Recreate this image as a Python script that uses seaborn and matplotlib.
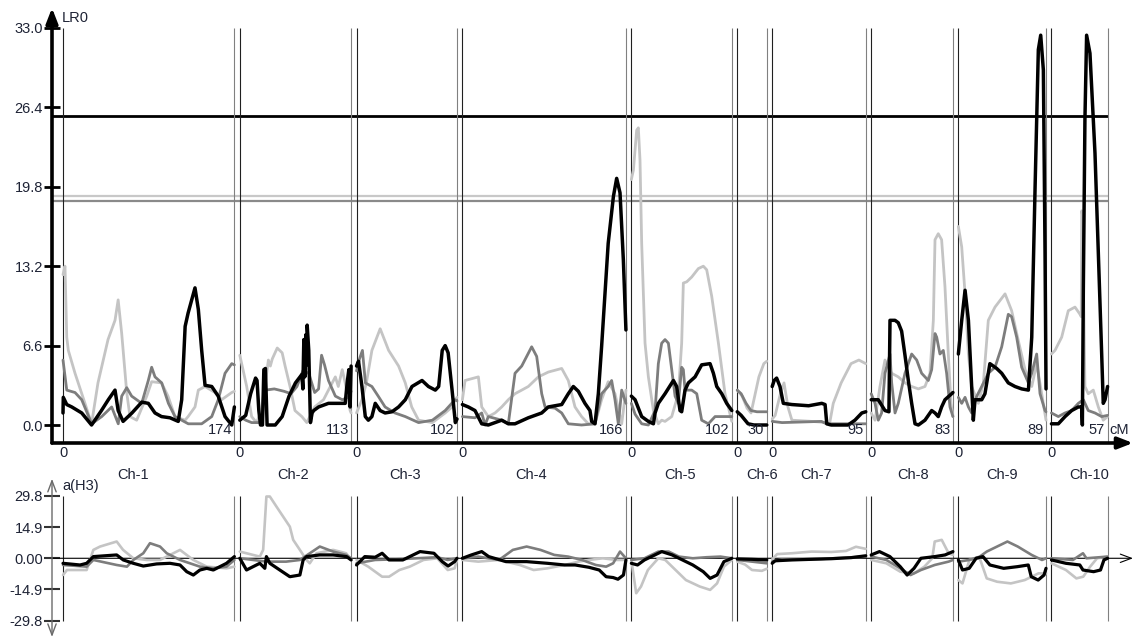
import numpy as np
import pandas as pd
import matplotlib
matplotlib.use("Agg")
import matplotlib.pyplot as plt
import seaborn as sns

# ---------------------------------------------------------------- data
chrom_names = ["Ch-1", "Ch-2", "Ch-3", "Ch-4", "Ch-5",
               "Ch-6", "Ch-7", "Ch-8", "Ch-9", "Ch-10"]
chrom_len = [174, 113, 102, 166, 102, 30, 95, 83, 89, 57]

# significance thresholds (LR) for the three traits
thr_black = 25.7
thr_light = 19.0
thr_dark = 18.6

lr_ticks = [0.0, 6.6, 13.2, 19.8, 26.4, 33.0]
eff_ticks = [-29.8, -14.9, 0.0, 14.9, 29.8]
eff_tick_labels = ["-29.8", "-14.9", "0.00", "14.9", "29.8"]

# LR profiles: one list of (cM, LR) per chromosome
lr_black = [
    [(0, 1.0), (0.3, 2.3), (3.8, 1.7), (8.9, 1.5), (19, 1.0), (29, 0.0), (39, 1.2), (46, 2.1), (52.8, 2.9),
     (56, 1.2), (61, 0.3), (70, 1.0), (80, 1.9), (86.6, 1.8), (93.4, 1.0), (100, 0.7), (108.6, 0.6), (117, 0.3),
     (120.5, 2.1), (124, 8.2), (127, 9.3), (134, 11.4), (137.4, 9.6), (140.8, 6.2), (144.2, 3.3), (151, 3.2),
     (157.6, 2.4), (164.5, 0.7), (171.3, 0.0), (174, 1.5)],
    [(0, 0.4), (6, 0.8), (11, 2.6), (16, 3.9), (17.5, 3.7), (19.3, 1.2), (21, 0.0), (23, 0.0), (24.4, 4.6),
     (26, 4.7), (27.7, 0.0), (36, 0.0), (43, 0.7), (50, 2.4), (56.5, 3.5), (63, 4.2), (64, 3.0), (65, 7.1),
     (66, 4.0), (67, 7.5), (68, 5.0), (68.4, 8.3), (70, 6.2), (71.7, 0.2), (73.4, 1.0), (75, 1.2), (80, 1.5),
     (90, 1.8), (100, 1.8), (107, 1.8), (109, 3.5), (110.7, 4.6), (112, 1.5), (113, 4.9)],
    [(0, 4.9), (2, 5.3), (5.5, 3.2), (8.9, 0.7), (12, 0.4), (15.6, 0.7), (19, 1.8), (24, 1.2), (29, 1.0),
     (36, 1.1), (42.7, 1.5), (49.5, 2.1), (56.3, 3.2), (66.5, 3.7), (73, 3.2), (80, 2.9), (83.4, 3.2), (87, 6.2),
     (90, 6.6), (93, 6.0), (97, 2.9), (100.3, 0.2), (102, 0.5)],
    [(0, 1.7), (6, 1.5), (12.8, 1.2), (19.6, 0.1), (26.3, 0.0), (39.9, 0.4), (46.6, 0.1), (53.4, 0.1),
     (66.9, 0.6), (80.5, 1.0), (87.2, 1.5), (100.8, 1.7), (107.5, 2.6), (112.6, 3.2), (117.7, 2.8), (124.4, 1.8),
     (129.5, 1.2), (131.2, 0.3), (134.6, 0.1), (138, 2.6), (141.3, 6.5), (148, 15.1), (153.3, 19.0),
     (156.6, 20.5), (160, 19.3), (163.4, 13.7), (166, 7.9)],
    [(0, 2.4), (3.8, 2.1), (10.5, 0.7), (17.3, 0.3), (22.4, 0.1), (24.1, 1.0), (27.4, 1.8), (34.2, 2.6),
     (42.7, 3.7), (46, 3.2), (49.4, 1.2), (51.1, 1.1), (54.5, 2.9), (57.9, 3.5), (64.7, 4.0), (71.4, 5.0),
     (79.9, 5.1), (83.3, 4.3), (86.7, 3.2), (91.8, 2.6), (96.8, 1.8), (102, 1.2)],
    [(0, 1.1), (4, 0.8), (11, 0.1), (17, 0.0), (30, 0.0)],
    [(0, 3.2), (2, 3.7), (4.5, 3.9), (7.9, 3.2), (11.3, 1.8), (20, 1.7), (37, 1.6), (50.3, 1.8), (53.7, 1.7),
     (55.4, 0.1), (60, 0.0), (77, 0.0), (84, 0.4), (91, 1.0), (95, 1.1)],
    [(0, 2.1), (3.9, 2.1), (7.2, 2.1), (14, 1.2), (18, 1.1), (19.1, 8.7), (24.2, 8.7), (27.5, 8.5), (30.9, 7.8),
     (34.3, 5.8), (37.7, 3.7), (41.1, 1.8), (44.5, 0.1), (47.9, 0.0), (54.6, 0.4), (61.4, 1.2), (64.8, 1.0),
     (68.1, 0.7), (71.5, 1.5), (74.9, 2.1), (81.7, 2.6), (83, 2.7)],
    [(0, 5.9), (3.4, 8.7), (6.8, 11.2), (10.2, 8.7), (13.5, 3.2), (15.2, 0.4), (16.9, 2.1), (20.3, 2.1),
     (23.7, 2.1), (27, 2.6), (32, 5.1), (38.9, 4.7), (44, 4.3), (50.7, 3.5), (57.5, 3.2), (64.3, 3.0),
     (71.1, 2.9), (74.5, 7.3), (77.9, 19.8), (81.2, 31.2), (83.6, 32.4), (86.3, 29.5), (88, 14.3), (89, 3.0)],
    [(0, 0.1), (7, 0.1), (13.8, 0.7), (20.5, 1.2), (27.3, 1.5), (30.7, 1.5), (31.4, 0.0), (32.4, 11.5),
     (34, 25.4), (35.7, 32.4), (39.1, 30.9), (44.2, 22.6), (47.6, 14.3), (51, 5.9), (52.6, 1.8), (54.4, 2.1),
     (57, 3.2)],
]

lr_dark = [
    [(0, 5.4), (3.8, 2.9), (12.2, 2.7), (19, 2.1), (29.1, 0.1), (39.3, 0.7), (49.4, 1.5), (56.1, 0.1),
     (59.6, 2.4), (64.7, 3.1), (69.7, 2.4), (79.9, 1.8), (86.6, 3.7), (90, 4.8), (93.4, 4.0), (100.2, 3.5),
     (107, 1.8), (113.7, 0.7), (127.2, 0.1), (140.8, 0.1), (151, 0.7), (157.6, 2.1), (164.5, 4.3),
     (171.3, 5.1), (174, 5.0)],
    [(0, 0.7), (6, 0.4), (12, 0.2), (19, 0.2), (23, 0.3), (24, 2.6), (26, 2.9), (35, 3.0), (45, 2.8), (52, 2.6),
     (58, 3.2), (64, 4.5), (70, 4.3), (76, 2.7), (80, 3.0), (83, 5.8), (86, 5.0), (90, 3.7), (97, 2.4),
     (104, 2.1), (110, 2.3), (113, 2.8)],
    [(0, 4.5), (3, 5.5), (6, 6.2), (9, 3.5), (15.6, 3.2), (22, 2.4), (29, 1.5), (39, 1.0), (49.5, 0.7),
     (63, 0.2), (77, 0.4), (90, 1.2), (100, 2.1), (102, 2.0)],
    [(0, 0.7), (12.8, 0.6), (19.6, 1.0), (23, 0.0), (26.3, 0.7), (39.9, 0.4), (46.6, 0.1), (53.4, 4.3),
     (60.2, 4.9), (70.3, 6.5), (75.4, 5.7), (80.5, 2.6), (83.9, 1.5), (94, 1.4), (100.8, 1.0), (107.5, 0.1),
     (121, 0.0), (134.6, 0.1), (141.3, 2.6), (148, 3.2), (151.5, 3.7), (154.9, 2.1), (158.3, 0.1),
     (161.7, 2.9), (166, 1.8)],
    [(0, 1.8), (3.8, 0.9), (10.5, 0.1), (17.3, 0.0), (24.1, 1.2), (27.4, 5.1), (30.8, 6.8), (34.2, 7.1),
     (37.6, 6.8), (41, 4.6), (44.4, 2.4), (47.7, 1.8), (51.1, 4.8), (52.8, 4.6), (54.5, 2.9), (61.3, 2.9),
     (66.4, 2.6), (71.4, 0.4), (78.2, 0.1), (85, 0.7), (95, 0.7), (102, 0.7)],
    [(0, 2.9), (4, 2.6), (9, 1.8), (14, 1.2), (20, 1.1), (30, 1.1)],
    [(0, 0.3), (10, 0.2), (50, 0.3), (55, 0.1), (95, 0.1)],
    [(0, 2.6), (3.9, 1.8), (7.2, 0.4), (10.6, 1.0), (14, 4.3), (19.1, 5.9), (20.8, 3.5), (24.2, 1.0),
     (27.5, 1.8), (34.3, 4.3), (41.1, 5.9), (46.2, 5.4), (51.2, 4.3), (58, 3.7), (61.4, 4.6), (64.8, 7.6),
     (66.5, 7.3), (69.8, 5.9), (73.2, 6.2), (76.6, 4.3), (80, 1.5), (83, 0.7)],
    [(0, 2.3), (3.4, 1.8), (6.8, 2.3), (10.2, 1.5), (13.5, 1.0), (16.9, 2.1), (23.7, 3.2), (30.4, 4.3),
     (37.2, 4.8), (44, 6.5), (50.7, 9.2), (54.1, 9.0), (59.2, 7.3), (64.3, 4.8), (71.1, 3.5), (74.5, 4.3),
     (79.5, 5.9), (82.9, 2.6), (88, 1.2), (89, 1.1)],
    [(0, 1.0), (7, 0.7), (13.8, 1.0), (20.5, 1.2), (27.3, 1.8), (32.4, 2.1), (37.4, 1.2), (44.2, 1.0),
     (51, 0.7), (57, 0.8)],
]

lr_light = [
    [(0, 12.5), (2, 13.2), (3.8, 7.3), (5.4, 6.2), (12.2, 4.3), (22.3, 1.8), (29, 0.1), (35.5, 3.5),
     (45.7, 7.1), (52.8, 8.7), (56, 10.4), (59.6, 7.6), (64.7, 2.7), (68, 0.7), (74.8, 0.4), (85, 2.4),
     (90, 3.6), (100, 3.5), (106.6, 2.4), (113.7, 0.7), (123.9, 0.4), (127, 0.7), (134, 1.5), (137.4, 2.9),
     (144.2, 3.2), (154.3, 2.7), (161, 2.1), (171.3, 2.7), (174, 2.8)],
    [(0, 5.8), (7, 3.2), (12, 0.7), (17, 0.2), (22, 1.2), (26, 3.5), (29, 5.4), (31, 4.9), (33, 5.5),
     (38, 6.4), (43, 6.0), (46, 4.9), (51, 3.2), (56, 1.2), (63, 0.7), (68, 0.2), (76, 1.5), (85, 2.1),
     (90, 2.9), (97, 4.0), (100, 3.2), (104, 4.6), (107, 3.5), (112, 1.2), (113, 1.0)],
    [(0, 1.0), (5.5, 2.1), (10, 3.5), (15.6, 6.2), (24, 8.0), (32.6, 6.2), (42.7, 4.9), (49.5, 3.5),
     (56, 1.5), (63, 0.4), (77, 0.2), (90, 1.0), (97, 1.5), (100, 2.1), (102, 2.3)],
    [(0, 2.1), (2.7, 3.7), (16.2, 4.0), (19.6, 1.5), (26.3, 0.7), (33.1, 1.0), (39.9, 1.5), (46.6, 2.1),
     (53.4, 2.6), (60.2, 2.9), (66.9, 3.2), (77.1, 4.0), (87.2, 4.4), (100.8, 4.7), (107.5, 3.7),
     (114.3, 1.5), (121, 0.7), (127.8, 0.1), (134.6, 0.1), (141.3, 2.1), (148, 3.6), (154.9, 2.6),
     (161.7, 0.1), (166, 2.9)],
    [(0, 20.4), (2.1, 21.2), (5.4, 24.5), (7.1, 24.7), (8.8, 22.0), (10.5, 15.1), (13.9, 6.8), (17.3, 4.0),
     (22.4, 1.2), (27.4, 0.1), (30.8, 0.4), (34.2, 0.3), (41, 0.7), (47.7, 2.6), (51.1, 6.8), (52.8, 11.8),
     (56.2, 11.9), (61.3, 12.3), (68, 13.0), (73.1, 13.2), (76.5, 12.9), (81.6, 10.7), (88.4, 6.8),
     (95.1, 2.6), (102, 0.3)],
    [(0, 2.9), (5, 2.4), (10, 1.4), (14, 1.0), (18, 2.5), (22, 4.0), (27, 5.1), (30, 5.3)],
    [(0, 0.5), (3, 0.8), (8, 2.5), (12, 3.5), (16, 1.5), (20, 0.4), (40, 0.3), (55, 0.2), (58, 0.0),
     (62, 1.8), (70, 3.5), (80, 5.1), (88, 5.4), (95, 5.1)],
    [(0, 1.0), (3.9, 0.4), (8.9, 3.2), (14, 5.4), (17.4, 4.8), (20.8, 4.3), (27.5, 4.0), (34.3, 3.5),
     (41.1, 3.2), (47.9, 3.0), (54.6, 3.2), (59.7, 4.3), (63.1, 8.7), (64.8, 15.4), (68.1, 15.9),
     (71.5, 15.4), (74.9, 11.5), (78.3, 5.9), (81, 1.8), (83, 0.7)],
    [(0, 16.5), (3.4, 14.8), (6.8, 10.9), (10.2, 5.9), (13.5, 3.2), (20.3, 1.8), (25.4, 3.5), (30.4, 8.7),
     (37.2, 9.8), (47.4, 10.9), (54.1, 9.5), (60.9, 7.0), (67.7, 4.6), (74.5, 3.2), (79.5, 5.1),
     (84.6, 2.6), (89, 0.4)],
    [(0, 5.9), (3.6, 6.2), (10.4, 7.3), (17.1, 9.5), (23.9, 9.8), (29, 9.2), (30.3, 9.0), (30.7, 17.8),
     (31.5, 17.5), (34, 3.2), (37.4, 2.6), (42.5, 2.9), (47.6, 1.5), (52.6, 0.4), (57, 0.7)],
]

# additive effects a(H3): one list of (cM, effect) per chromosome
eff_black = [
    [(0, -2.4), (17.3, -3.2), (24, -2.4), (30.8, 0.8), (54.5, 1.6), (61.2, -0.8), (71.4, -2.4), (81.5, -3.7),
     (95, -2.7), (108.6, -2.4), (118.8, -3.2), (125.6, -6.4), (132.3, -8.0), (139, -5.6), (146, -4.8),
     (152.6, -5.6), (166, -2.4), (174, 0.8)],
    [(0, 0.0), (6.8, -5.6), (13.5, -4.0), (20.3, -2.4), (25.4, -4.8), (27, 0.8), (30.5, -2.4), (40.6, -5.6),
     (50.8, -8.8), (61, -8.0), (64.3, -0.8), (67.7, 0.8), (81.2, 1.6), (94.8, 1.6), (108.3, 0.8), (113, -0.8)],
    [(0, -3.2), (8.4, 0.8), (18.9, 0.5), (26, 2.4), (33, -0.8), (47, -0.8), (57.5, 1.6), (64.5, 3.2),
     (78.6, 2.4), (87, -1.6), (93, -3.7), (99.6, -1.6), (102, 0.0)],
    [(0, 0.0), (9.1, 1.6), (19.6, 3.2), (26.7, 0.8), (44.2, -1.6), (65.2, -1.6), (86.3, -2.4), (103.8, -3.2),
     (114.4, -3.2), (128.4, -4.3), (138.9, -5.6), (145.9, -8.8), (153, -9.2), (157.9, -10.0), (163.5, -8.0),
     (166, -0.8)],
    [(0, -2.4), (6.3, -3.2), (13.3, -0.8), (23.9, 1.6), (30.9, 3.2), (41.4, 1.6), (51.9, -0.8), (62.4, -3.2),
     (73, -6.4), (80, -9.6), (87, -8.0), (94, -1.6), (102, 0.0)],
    [(0, -0.3), (15, -0.5), (30, -0.8)],
    [(0, -2.4), (3, -1.2), (20, -0.8), (40, -0.5), (60, -0.2), (80, 0.3), (95, 1.2)],
    [(0, 1.6), (8.4, 3.2), (19, 0.8), (29.5, -4.0), (36.5, -8.0), (43.5, -4.8), (50.5, 0.0), (64.5, 0.8),
     (75, 1.6), (83, 3.2)],
    [(0, -0.8), (4.2, -5.6), (11, -4.8), (18, 0.0), (25, 0.8), (32, -3.2), (46, -4.8), (60, -4.0),
     (71, -3.2), (74, -8.8), (81, -10.4), (87, -8.0), (89, -4.8)],
    [(0, -0.8), (14.7, -2.4), (28.8, -3.2), (32, -5.6), (42.8, -6.4), (49.8, -5.6), (53.3, -0.8), (57, 0.0)],
]

eff_dark = [
    [(0, -3.2), (24, -4.0), (30.8, -0.8), (54.5, -3.2), (64.9, -4.0), (71.4, -0.8), (81.5, 2.4), (88.3, 7.2),
     (98.5, 5.6), (105.3, 2.4), (118.8, -0.8), (139, -4.0), (152.6, -4.8), (166, -4.0), (174, -0.8)],
    [(0, 0.0), (13.5, -0.8), (27, -1.6), (47, -1.6), (61, -0.8), (71.1, 2.4), (81.2, 5.6), (94.8, 3.2),
     (108, 1.6), (113, 0.0)],
    [(0, -2.4), (18.9, -0.8), (40, -0.5), (61, 0.0), (82, 0.5), (92.6, -0.8), (102, 0.0)],
    [(0, 0.0), (16.1, 0.8), (37.2, -0.8), (51.2, 4.0), (65.2, 5.6), (79.3, 4.0), (93.3, 1.6), (107.3, 0.8),
     (121.4, -0.8), (135.4, -3.2), (145.9, -4.0), (153, -2.4), (160, 3.2), (166, 0.0)],
    [(0, -0.8), (13.3, 0.0), (27.4, 3.2), (37.9, 3.2), (48.4, 0.8), (62.4, 0.0), (76.5, 0.5), (90.5, 0.8),
     (102, 0.0)],
    [(0, -0.8), (15, -1.6), (30, -2.4)],
    [(0, -1.6), (10, -0.5), (50, -0.3), (95, 0.8)],
    [(0, 0.8), (15.4, -0.8), (29.5, -4.8), (40, -8.0), (50.5, -5.6), (64.5, -3.2), (78.6, -1.6), (83, -0.8)],
    [(0, -1.6), (11.2, -0.8), (21.7, 0.8), (28.8, 3.2), (39.3, 5.6), (49.8, 8.0), (60.3, 5.6), (74.4, 1.6),
     (84.9, -0.8), (89, 0.0)],
    [(0, 0.0), (21.8, -0.8), (32, 2.4), (35.5, 0.0), (57, 0.8)],
]

eff_light = [
    [(0, -8.0), (4, -5.6), (24, -5.6), (30.8, 4.0), (37.6, 5.6), (54.5, 8.0), (61, 4.0), (71.4, 0.0),
     (85, -0.8), (98.5, -0.8), (118.8, 4.0), (132.3, -0.8), (146, -4.0), (166, -4.8), (174, -4.0)],
    [(0, 3.2), (13.5, 1.6), (20.3, 0.8), (23.7, 4.0), (27, 29.5), (30.5, 29.5), (37.2, 24.7), (50.8, 15.1),
     (54.2, 8.8), (61, 4.0), (67.7, -0.8), (71, -2.4), (77.8, 2.4), (94.8, 4.0), (108, 2.4), (113, -0.8)],
    [(0, -0.8), (11.9, -4.0), (26, -8.8), (33, -8.8), (43.5, -5.6), (54, -4.0), (68, -0.8), (82, 0.0),
     (92.6, -5.6), (99.6, -4.8), (102, -0.8)],
    [(0, -0.8), (16.1, -1.6), (37.2, -0.8), (58.2, -3.2), (72.3, -5.6), (86.3, -4.8), (103.8, -3.2),
     (117.9, -1.6), (128.4, -0.8), (142.4, 0.0), (156.5, -0.8), (166, -0.8)],
    [(0, -0.8), (4.9, -16.7), (9.8, -13.5), (16.8, -5.6), (27.4, 0.0), (34.4, -0.8), (44.9, -5.6),
     (55.4, -10.4), (69.5, -13.5), (80, -15.1), (87, -12.0), (94, -4.0), (102, -0.8)],
    [(0, -1.6), (8, -3.0), (15, -5.6), (25, -6.0), (30, -5.0)],
    [(0, -0.5), (5, 2.0), (20, 2.4), (40, 3.2), (60, 3.0), (75, 3.5), (85, 5.5), (95, 4.5)],
    [(0, -0.8), (15.4, -2.4), (29.5, -6.4), (43.5, -7.2), (54, -4.0), (62, 0.0), (64.5, 8.0), (71.6, 8.8),
     (78.6, 2.4), (83, 1.6)],
    [(0, -10.4), (4.2, -12.0), (11.2, -0.8), (21.7, 0.0), (28.8, -9.6), (39.3, -11.2), (53.3, -12.0),
     (67.4, -10.4), (81.4, -7.2), (89, -7.2)],
    [(0, -2.4), (14.7, -5.6), (25.3, -9.6), (32.3, -8.8), (39.3, -4.0), (46.3, 0.0), (57, 0.8)],
]

# ---------------------------------------------------------------- layout
W, H = 1134, 637
GAP = 5.5                                   # spacing between chromosomes
offsets = np.concatenate([[0.0], np.cumsum(np.array(chrom_len) + GAP)[:-1]])
chrom_ends = offsets + np.array(chrom_len)
label_at = [71, 54, 49, 70, 49, 25, 45, 43, 44, 38]   # cM along each chromosome

X_MIN, X_MAX = -11.17, 1086.3
TEXT = "#1e2335"
FS = 10.5
C_BLACK, C_DARK, C_LIGHT = "#000000", "#7d7d7d", "#c4c4c4"

sns.set_theme(style="white")
plt.rcParams["font.family"] = ["Liberation Sans", "DejaVu Sans"]
plt.rcParams["font.size"] = FS


def profile_frame(profiles, value_name):
    rows = []
    for ci, pts in enumerate(profiles):
        for cm, v in pts:
            rows.append({"chrom": chrom_names[ci], "pos": offsets[ci] + cm, value_name: v})
    return pd.DataFrame(rows)


fig = plt.figure(figsize=(W / 100, H / 100), dpi=100)
ax_bot = fig.add_axes([52 / W, 1 - 637 / H, (1133 - 52) / W, (637 - 476) / H])
ax_top = fig.add_axes([52 / W, 1 - 443 / H, (1133 - 52) / W, (443 - 8) / H])

for ax in (ax_top, ax_bot):
    ax.patch.set_visible(False)
    for s in ax.spines.values():
        s.set_visible(False)
    ax.set_xlim(X_MIN, X_MAX)

ax_top.set_ylim(-1.496, 34.66)
ax_bot.set_ylim(-37.6, 39.3)

# ------------------------------------------------ LR panel
ax_top.hlines(thr_light, X_MIN, chrom_ends[-1], color="#c8c8c8", lw=1.6, zorder=1)
ax_top.hlines(thr_dark, X_MIN, chrom_ends[-1], color="#8a8a8a", lw=1.6, zorder=1)
ax_top.hlines(thr_black, X_MIN, chrom_ends[-1], color="black", lw=2.0, zorder=1)

for st, en in zip(offsets, chrom_ends):
    ax_top.vlines(st, -1.496, 33.0, color="#202020", lw=0.8, zorder=1)
    ax_top.vlines(en, -1.496, 33.0, color="#808080", lw=0.8, zorder=1)
    ax_bot.vlines(st, -29.8, 29.8, color="#202020", lw=0.8, zorder=1)
    ax_bot.vlines(en, -29.8, 29.8, color="#808080", lw=0.8, zorder=1)

for prof, col, lw in ((lr_light, C_LIGHT, 2.0), (lr_dark, C_DARK, 2.0), (lr_black, C_BLACK, 2.5)):
    d = profile_frame(prof, "lr")
    sns.lineplot(data=d, x="pos", y="lr", units="chrom", estimator=None, sort=False,
                 color=col, lw=lw, ax=ax_top, legend=False, zorder=3)

for prof, col, lw in ((eff_light, C_LIGHT, 1.9), (eff_dark, C_DARK, 1.9), (eff_black, C_BLACK, 2.3)):
    d = profile_frame(prof, "a")
    sns.lineplot(data=d, x="pos", y="a", units="chrom", estimator=None, sort=False,
                 color=col, lw=lw, ax=ax_bot, legend=False, zorder=3)

for ax in (ax_top, ax_bot):
    ax.set_xlabel("")
    ax.set_ylabel("")
    ax.set_xticks([])

# axes with arrows
arrow_kw = dict(color="black", lw=2.6, shrinkA=0, shrinkB=0, mutation_scale=10)
ax_top.annotate("", xy=(0, 1), xytext=(0, 0), xycoords="axes fraction",
                arrowprops=dict(arrowstyle="-|>,head_length=0.9,head_width=0.35", **arrow_kw),
                annotation_clip=False, zorder=5)
ax_top.annotate("", xy=(1, 0), xytext=(0, 0), xycoords="axes fraction",
                arrowprops=dict(arrowstyle="-|>,head_length=0.9,head_width=0.35", **arrow_kw),
                annotation_clip=False, zorder=5)

ax_top.set_yticks(lr_ticks)
ax_top.set_yticklabels([f"{v:.1f}" for v in lr_ticks])
ax_top.tick_params(axis="y", direction="inout", length=11, width=2, color="black",
                   labelcolor=TEXT, labelsize=FS, pad=1, left=True)

# effect panel axes
ax_bot.annotate("", xy=(0, 1), xytext=(0, 0), xycoords="axes fraction",
                arrowprops=dict(arrowstyle="<->,head_length=0.8,head_width=0.3", color="#6a6a6a",
                                lw=1.0, shrinkA=0, shrinkB=2, mutation_scale=10),
                annotation_clip=False, zorder=5)
ax_bot.annotate("", xy=(1, 0), xytext=(0, 0), xycoords=ax_bot.get_yaxis_transform(),
                arrowprops=dict(arrowstyle="->,head_length=0.8,head_width=0.3", color="black",
                                lw=0.8, shrinkA=0, shrinkB=0, mutation_scale=10),
                annotation_clip=False, zorder=2)
ax_bot.set_yticks(eff_ticks)
ax_bot.set_yticklabels(eff_tick_labels)
ax_bot.tick_params(axis="y", direction="inout", length=11, width=1.5, color="#333333",
                   labelcolor=TEXT, labelsize=FS, pad=1, left=True)

# chromosome annotations
for ci in range(len(chrom_len)):
    ax_top.text(offsets[ci], -2.33, "0", ha="center", va="center", color=TEXT,
                fontsize=FS, clip_on=False)
    ax_top.text(chrom_ends[ci] - 2.5, -0.45, str(chrom_len[ci]), ha="right", va="center",
                color=TEXT, fontsize=FS, zorder=4)
    ax_top.text(offsets[ci] + label_at[ci], -4.16, chrom_names[ci], ha="center", va="center",
                color=TEXT, fontsize=FS, clip_on=False, zorder=6)

ax_top.text(chrom_ends[-1] + 1.5, -0.45, "cM", ha="left", va="center", color=TEXT, fontsize=FS,
            clip_on=False)
fig.text(62 / W, 1 - 18 / H, "LR0", ha="left", va="center", color=TEXT, fontsize=FS)
fig.text(62 / W, 1 - 486 / H, "a(H3)", ha="left", va="center", color=TEXT, fontsize=FS)

fig.savefig("out.png", dpi=100, facecolor="white")
